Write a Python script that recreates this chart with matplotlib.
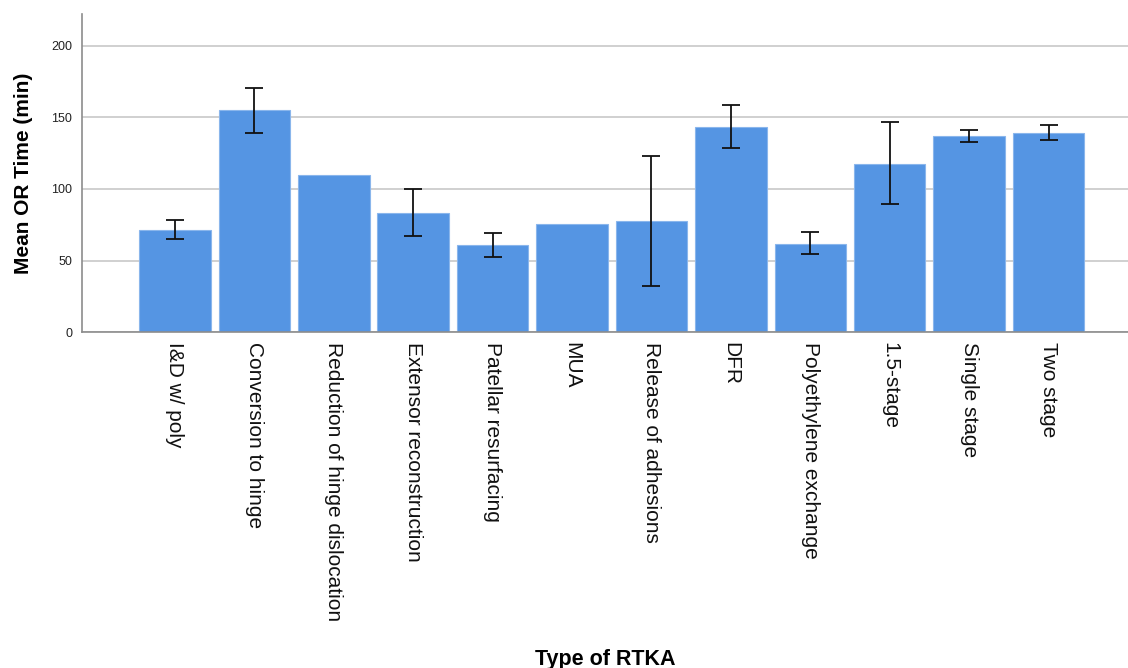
import numpy as np
import matplotlib
matplotlib.use('Agg')
import matplotlib.pyplot as plt

plt.rcParams['font.family'] = ['Liberation Sans', 'DejaVu Sans']

# mean OR time per procedure, with 95% CI bounds (None where n=1)
categories = ['I&D w/ poly', 'Conversion to hinge', 'Reduction of hinge dislocation',
              'Extensor reconstruction', 'Patellar resurfacing', 'MUA',
              'Release of adhesions', 'DFR', 'Polyethylene exchange',
              '1.5-stage', 'Single stage', 'Two stage']
means = [71.6, 154.9, 110.0, 83.2, 60.7, 75.8, 77.5, 143.5, 61.8, 117.7, 136.8, 139.1]
ci_low = [65.3, 138.9, None, 67.0, 52.3, None, 32.5, 128.6, 54.4, 89.3, 132.6, 134.0]
ci_high = [78.2, 170.7, None, 100.0, 69.5, None, 122.8, 158.6, 70.2, 146.5, 141.0, 144.5]
yticks = [0, 50, 100, 150, 200]

fig = plt.figure(figsize=(11.28, 6.68), dpi=100)
ax = fig.add_axes([0.0727, 0.5026, 0.9273, 0.4764])

x = np.arange(len(categories))
ax.bar(x, means, width=0.9, color='#5595e3', edgecolor='#8ab6ec', linewidth=0.8, zorder=2)

# error bars only where a CI exists
idx = [i for i in range(len(categories)) if ci_low[i] is not None]
m = np.array([means[i] for i in idx])
lo = np.array([ci_low[i] for i in idx])
hi = np.array([ci_high[i] for i in idx])
ax.errorbar(idx, m, yerr=[m - lo, hi - m], fmt='none', ecolor='#111111',
            elinewidth=1.3, capsize=6.5, capthick=1.3, zorder=3)

ax.set_xlim(-1.17, 12.0)
ax.set_ylim(0, 222)
ax.set_yticks(yticks)
ax.set_yticklabels([str(v) for v in yticks], fontsize=9, color='#222222')
ax.set_xticks(x)
ax.set_xticklabels(categories, rotation=-90, ha='center', va='top', fontsize=15, color='#111111')
ax.tick_params(axis='both', length=0)
ax.tick_params(axis='y', pad=7)
ax.tick_params(axis='x', pad=7)

ax.yaxis.grid(True, color='#c8c8c8', linewidth=1.2)
ax.set_axisbelow(True)
for s in ['top', 'right']:
    ax.spines[s].set_visible(False)
for s in ['left', 'bottom']:
    ax.spines[s].set_color('#8c8c8c')
    ax.spines[s].set_linewidth(1.2)

ax.set_ylabel('Mean OR Time (min)', fontsize=15, fontweight='bold', labelpad=13)
ax.set_xlabel('Type of RTKA', fontsize=15.5, fontweight='bold', labelpad=20)

fig.savefig('out.png', dpi=100)
